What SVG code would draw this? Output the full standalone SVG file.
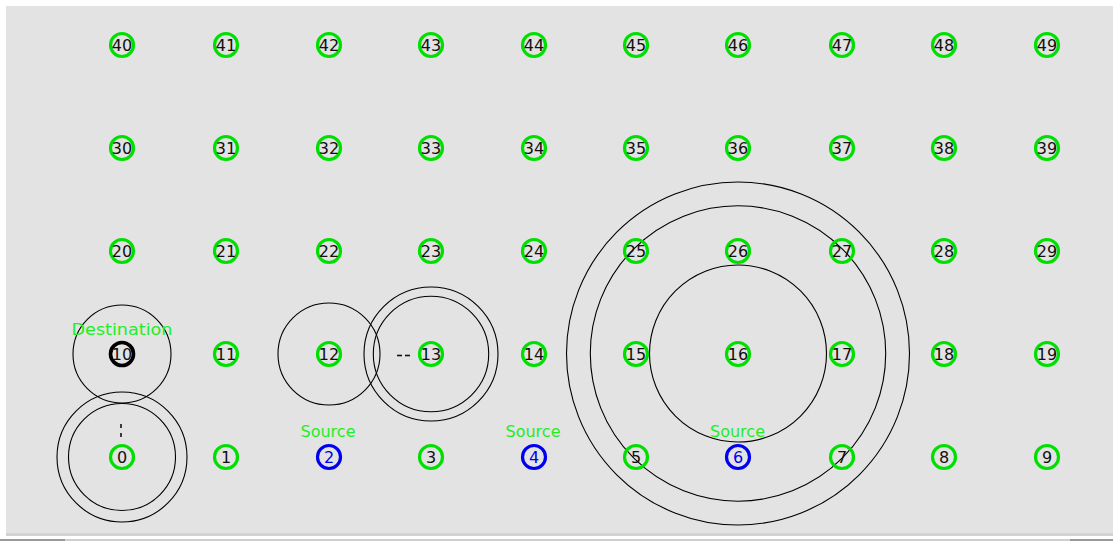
<svg xmlns="http://www.w3.org/2000/svg" width="1113" height="542" viewBox="0 0 1113 542">
<style>
.n{fill:none;stroke:#00e000;stroke-width:3.2}
.nb{fill:none;stroke:#0000f0;stroke-width:3.2}
.nk{fill:none;stroke:#000;stroke-width:3.6}
.t{font-family:"DejaVu Sans",sans-serif;font-size:16px;fill:#111;text-anchor:middle}
.tb{fill:#0000f0}
.lbl{font-family:"DejaVu Sans",sans-serif;font-size:15px;fill:#22ee22;text-anchor:middle}
.r{fill:none;stroke:#000;stroke-width:1.1}
.d{stroke:#111;stroke-width:1.6}
</style>
<rect x="0" y="0" width="1113" height="542" fill="#ffffff"/>
<rect x="6" y="6" width="1107" height="527" fill="#e3e3e3"/>
<rect x="6" y="533" width="1107" height="3" fill="#d2d2d2"/>
<rect x="0" y="539" width="1113" height="2" fill="#cfcfcf"/>
<rect x="0" y="539" width="65" height="2" fill="#999"/>
<rect x="1070" y="539" width="43" height="2" fill="#999"/>
<g id="connectors">
<circle class="r" cx="122" cy="354" r="49"/>
<circle class="r" cx="122" cy="457" r="65"/>
<circle class="r" cx="122" cy="457" r="53.5"/>
<circle class="r" cx="329" cy="354" r="51"/>
<circle class="r" cx="431" cy="354" r="67"/>
<circle class="r" cx="431" cy="354" r="57.7"/>
<circle class="r" cx="738" cy="353.5" r="171.5"/>
<circle class="r" cx="738" cy="353.5" r="147.7"/>
<circle class="r" cx="738" cy="353.5" r="88.5"/>
<line class="d" x1="121" y1="424" x2="121" y2="428"/>
<line class="d" x1="121" y1="433" x2="121" y2="437"/>
<line class="d" x1="397" y1="355.5" x2="402" y2="355.5"/>
<line class="d" x1="405" y1="355.5" x2="410" y2="355.5"/>
</g>
<g id="n40"><circle class="n" cx="122" cy="45" r="11.5"/><text class="t" x="122" y="51">40</text></g>
<g id="n41"><circle class="n" cx="226" cy="45" r="11.5"/><text class="t" x="226" y="51">41</text></g>
<g id="n42"><circle class="n" cx="329" cy="45" r="11.5"/><text class="t" x="329" y="51">42</text></g>
<g id="n43"><circle class="n" cx="431" cy="45" r="11.5"/><text class="t" x="431" y="51">43</text></g>
<g id="n44"><circle class="n" cx="534" cy="45" r="11.5"/><text class="t" x="534" y="51">44</text></g>
<g id="n45"><circle class="n" cx="636" cy="45" r="11.5"/><text class="t" x="636" y="51">45</text></g>
<g id="n46"><circle class="n" cx="738" cy="45" r="11.5"/><text class="t" x="738" y="51">46</text></g>
<g id="n47"><circle class="n" cx="842" cy="45" r="11.5"/><text class="t" x="842" y="51">47</text></g>
<g id="n48"><circle class="n" cx="944" cy="45" r="11.5"/><text class="t" x="944" y="51">48</text></g>
<g id="n49"><circle class="n" cx="1047" cy="45" r="11.5"/><text class="t" x="1047" y="51">49</text></g>
<g id="n30"><circle class="n" cx="122" cy="148" r="11.5"/><text class="t" x="122" y="154">30</text></g>
<g id="n31"><circle class="n" cx="226" cy="148" r="11.5"/><text class="t" x="226" y="154">31</text></g>
<g id="n32"><circle class="n" cx="329" cy="148" r="11.5"/><text class="t" x="329" y="154">32</text></g>
<g id="n33"><circle class="n" cx="431" cy="148" r="11.5"/><text class="t" x="431" y="154">33</text></g>
<g id="n34"><circle class="n" cx="534" cy="148" r="11.5"/><text class="t" x="534" y="154">34</text></g>
<g id="n35"><circle class="n" cx="636" cy="148" r="11.5"/><text class="t" x="636" y="154">35</text></g>
<g id="n36"><circle class="n" cx="738" cy="148" r="11.5"/><text class="t" x="738" y="154">36</text></g>
<g id="n37"><circle class="n" cx="842" cy="148" r="11.5"/><text class="t" x="842" y="154">37</text></g>
<g id="n38"><circle class="n" cx="944" cy="148" r="11.5"/><text class="t" x="944" y="154">38</text></g>
<g id="n39"><circle class="n" cx="1047" cy="148" r="11.5"/><text class="t" x="1047" y="154">39</text></g>
<g id="n20"><circle class="n" cx="122" cy="251" r="11.5"/><text class="t" x="122" y="257">20</text></g>
<g id="n21"><circle class="n" cx="226" cy="251" r="11.5"/><text class="t" x="226" y="257">21</text></g>
<g id="n22"><circle class="n" cx="329" cy="251" r="11.5"/><text class="t" x="329" y="257">22</text></g>
<g id="n23"><circle class="n" cx="431" cy="251" r="11.5"/><text class="t" x="431" y="257">23</text></g>
<g id="n24"><circle class="n" cx="534" cy="251" r="11.5"/><text class="t" x="534" y="257">24</text></g>
<g id="n25"><circle class="n" cx="636" cy="251" r="11.5"/><text class="t" x="636" y="257">25</text></g>
<g id="n26"><circle class="n" cx="738" cy="251" r="11.5"/><text class="t" x="738" y="257">26</text></g>
<g id="n27"><circle class="n" cx="842" cy="251" r="11.5"/><text class="t" x="842" y="257">27</text></g>
<g id="n28"><circle class="n" cx="944" cy="251" r="11.5"/><text class="t" x="944" y="257">28</text></g>
<g id="n29"><circle class="n" cx="1047" cy="251" r="11.5"/><text class="t" x="1047" y="257">29</text></g>
<g id="n10"><circle class="nk" cx="122" cy="354" r="11.5"/><text class="t" x="122" y="360">10</text><text class="lbl" x="122" y="335" textLength="101" lengthAdjust="spacingAndGlyphs">Destination</text></g>
<g id="n11"><circle class="n" cx="226" cy="354" r="11.5"/><text class="t" x="226" y="360">11</text></g>
<g id="n12"><circle class="n" cx="329" cy="354" r="11.5"/><text class="t" x="329" y="360">12</text></g>
<g id="n13"><circle class="n" cx="431" cy="354" r="11.5"/><text class="t" x="431" y="360">13</text></g>
<g id="n14"><circle class="n" cx="534" cy="354" r="11.5"/><text class="t" x="534" y="360">14</text></g>
<g id="n15"><circle class="n" cx="636" cy="354" r="11.5"/><text class="t" x="636" y="360">15</text></g>
<g id="n16"><circle class="n" cx="738" cy="354" r="11.5"/><text class="t" x="738" y="360">16</text></g>
<g id="n17"><circle class="n" cx="842" cy="354" r="11.5"/><text class="t" x="842" y="360">17</text></g>
<g id="n18"><circle class="n" cx="944" cy="354" r="11.5"/><text class="t" x="944" y="360">18</text></g>
<g id="n19"><circle class="n" cx="1047" cy="354" r="11.5"/><text class="t" x="1047" y="360">19</text></g>
<g id="n0"><circle class="n" cx="122" cy="457" r="11.5"/><text class="t" x="122" y="463">0</text></g>
<g id="n1"><circle class="n" cx="226" cy="457" r="11.5"/><text class="t" x="226" y="463">1</text></g>
<g id="n2"><circle class="nb" cx="329" cy="457" r="11.5"/><text class="t tb" x="329" y="463">2</text><text class="lbl" x="328" y="437" textLength="55" lengthAdjust="spacingAndGlyphs">Source</text></g>
<g id="n3"><circle class="n" cx="431" cy="457" r="11.5"/><text class="t" x="431" y="463">3</text></g>
<g id="n4"><circle class="nb" cx="534" cy="457" r="11.5"/><text class="t tb" x="534" y="463">4</text><text class="lbl" x="533" y="437" textLength="55" lengthAdjust="spacingAndGlyphs">Source</text></g>
<g id="n5"><circle class="n" cx="636" cy="457" r="11.5"/><text class="t" x="636" y="463">5</text></g>
<g id="n6"><circle class="nb" cx="738" cy="457" r="11.5"/><text class="t tb" x="738" y="463">6</text><text class="lbl" x="737.5" y="437" textLength="55" lengthAdjust="spacingAndGlyphs">Source</text></g>
<g id="n7"><circle class="n" cx="842" cy="457" r="11.5"/><text class="t" x="842" y="463">7</text></g>
<g id="n8"><circle class="n" cx="944" cy="457" r="11.5"/><text class="t" x="944" y="463">8</text></g>
<g id="n9"><circle class="n" cx="1047" cy="457" r="11.5"/><text class="t" x="1047" y="463">9</text></g>
</svg>
